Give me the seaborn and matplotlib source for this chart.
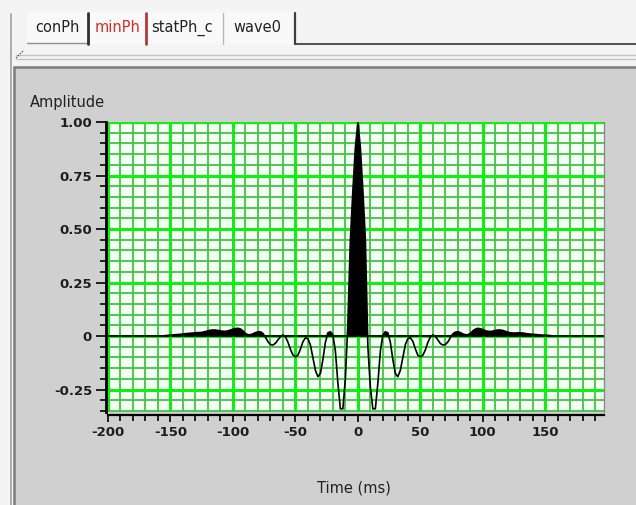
import numpy as np
import pandas as pd
import matplotlib
matplotlib.use("Agg")
import matplotlib.pyplot as plt
import seaborn as sns
from matplotlib.patches import Rectangle
from matplotlib.lines import Line2D
from matplotlib.ticker import FixedLocator, MultipleLocator

# ---------------- data ----------------
# amplitude samples every 2 ms, left half: -156 .. -2 ms
amp_left = [
    0.000, 0.002, 0.003, 0.004, 0.005, 0.006, 0.007, 0.008, 0.009, 0.011,
    0.012, 0.013, 0.014, 0.015, 0.016, 0.016, 0.018, 0.021, 0.024, 0.027,
    0.028, 0.028, 0.026, 0.024, 0.022, 0.022, 0.024, 0.028, 0.032, 0.035,
    0.036, 0.033, 0.024, 0.012, 0.006, 0.006, 0.010, 0.016, 0.019, 0.020,
    0.012, -0.006, -0.026, -0.040, -0.042, -0.034, -0.018, -0.003, 0.005, -0.004,
    -0.028, -0.062, -0.088, -0.097, -0.090, -0.062, -0.027, -0.009, -0.012, -0.042,
    -0.100, -0.160, -0.190, -0.175, -0.110, -0.030, 0.015, 0.020, 0.005, -0.070,
    -0.220, -0.340, -0.340, -0.200, 0.060, 0.450, 0.680, 0.880,
]
# right half: 0 .. 156 ms
amp_right = [
    1.000, 0.880, 0.680, 0.450, -0.050, -0.240, -0.340, -0.340, -0.220, -0.070,
    0.005, 0.020, 0.015, -0.030, -0.110, -0.175, -0.190, -0.160, -0.100, -0.040,
    -0.012, -0.008, -0.025, -0.060, -0.090, -0.097, -0.090, -0.065, -0.030, -0.005,
    0.005, -0.002, -0.018, -0.035, -0.042, -0.040, -0.028, -0.008, 0.010, 0.018,
    0.020, 0.016, 0.010, 0.006, 0.006, 0.012, 0.024, 0.032, 0.036, 0.034,
    0.030, 0.025, 0.022, 0.021, 0.023, 0.026, 0.028, 0.028, 0.026, 0.022,
    0.018, 0.015, 0.014, 0.014, 0.015, 0.015, 0.014, 0.012, 0.010, 0.009,
    0.008, 0.007, 0.006, 0.005, 0.004, 0.004, 0.003, 0.002, 0.000,
]
x_ticks = [-200, -150, -100, -50, 0, 50, 100, 150]
x_tick_labels = ["-200", "-150", "-100", "-50", "0", "50", "100", "150"]
y_ticks = [1.00, 0.75, 0.50, 0.25, 0.0, -0.25]
y_tick_labels = ["1.00", "0.75", "0.50", "0.25", "0", "-0.25"]
tab_names = ["conPh", "minPh", "statPh_c", "wave0"]
x_label = "Time (ms)"
y_label = "Amplitude"

amplitude = np.array(amp_left + amp_right)
time_ms = np.arange(-2 * len(amp_left), 2 * len(amp_right), 2)
df = pd.DataFrame({"time": time_ms, "amp": amplitude})

# ---------------- figure ----------------
sns.set_theme(style="white")
plt.rcParams["font.family"] = ["DejaVu Sans"]
plt.rcParams["font.weight"] = "bold"   # tick labels are bold; other texts set normal

W, H = 636, 505
fig = plt.figure(figsize=(W / 100, H / 100), dpi=100, facecolor="#f4f4f4")


def fx(x):
    return x / W


def fy(y):
    return 1 - y / H


# window chrome
fig.add_artist(Rectangle((fx(14), 0), 1 - fx(14), fy(67), transform=fig.transFigure,
                         facecolor="#d0d0d0", edgecolor="none", zorder=-5))
fig.add_artist(Line2D([fx(14), 1], [fy(67), fy(67)], transform=fig.transFigure,
                      color="#7c7c7c", lw=1.8, zorder=-4))
fig.add_artist(Line2D([fx(14), fx(14)], [0, fy(67)], transform=fig.transFigure,
                      color="#7c7c7c", lw=1.8, zorder=-4))
fig.add_artist(Line2D([fx(11), fx(11)], [0, fy(14)], transform=fig.transFigure,
                      color="#a0a0a0", lw=1.2, zorder=-4))
for yy in (55, 59):
    fig.add_artist(Line2D([fx(16), 1], [fy(yy), fy(yy)], transform=fig.transFigure,
                          color="#c4c4c4", lw=1.0, zorder=-4))
fig.add_artist(Line2D([fx(16), fx(24)], [fy(58), fy(50)], transform=fig.transFigure,
                      color="#555555", lw=1.0, ls=(0, (1, 1)), zorder=-4))

# tabs
fig.add_artist(Rectangle((fx(27), fy(44)), fx(295) - fx(27), fy(12) - fy(44),
                         transform=fig.transFigure, facecolor="#f9f9f9",
                         edgecolor="none", zorder=-4))
fig.add_artist(Line2D([fx(295), 1], [fy(44), fy(44)], transform=fig.transFigure,
                      color="#505050", lw=1.4, zorder=-3))
fig.add_artist(Line2D([fx(27), fx(88)], [fy(43), fy(43)], transform=fig.transFigure,
                      color="#909090", lw=1.0, zorder=-3))
dividers = [(88, "#303030", 2.0), (146, "#b03a3a", 2.0), (223, "#b8b8b8", 1.0), (295, "#404040", 1.6)]
for xx, col, lw in dividers:
    fig.add_artist(Line2D([fx(xx), fx(xx)], [fy(13), fy(44)], transform=fig.transFigure,
                          color=col, lw=lw, zorder=-3))
tab_x = [35, 95, 151, 233]
tab_colors = ["#222222", "#d42a2a", "#222222", "#222222"]
for name, xx, col in zip(tab_names, tab_x, tab_colors):
    fig.text(fx(xx), fy(28), name, color=col, fontsize=10.5, fontweight="normal",
             ha="left", va="center")

# ---------------- plot ----------------
ax = fig.add_axes([fx(108), fy(412), fx(604) - fx(108), fy(122) - fy(412)])
ax.set_facecolor("#f2fff2")
ax.set_axisbelow(True)

ax.axhline(0, color="black", lw=1.3, zorder=2)
ax.fill_between(df["time"], df["amp"], 0, where=df["amp"] > 0, interpolate=True,
                color="black", lw=0, zorder=3)
sns.lineplot(data=df, x="time", y="amp", ax=ax, color="black", lw=1.2, zorder=4,
             sort=False, estimator=None)

ax.set_xlim(-200, 197)
ax.set_ylim(-0.355, 1.0)

tick_font = dict(fontweight="bold", fontsize=9.5, color="#1e1e1e")
ax.xaxis.set_major_locator(FixedLocator(x_ticks))
ax.set_xticklabels(x_tick_labels, **tick_font)
ax.xaxis.set_minor_locator(MultipleLocator(10))
ax.yaxis.set_major_locator(FixedLocator(y_ticks))
ax.set_yticklabels(y_tick_labels, **tick_font)
ax.yaxis.set_minor_locator(MultipleLocator(0.05))

ax.grid(which="minor", color="#46c246", lw=1.3)
ax.grid(which="major", color="#10f010", lw=2.2)

ax.tick_params(axis="both", which="both", direction="out", color="black",
               labelcolor="#1e1e1e", labelsize=9.5)
ax.tick_params(axis="y", which="major", length=7, width=1.2, pad=3)
ax.tick_params(axis="y", which="minor", length=4, width=1.2)
ax.tick_params(axis="x", which="major", length=5, width=1.2, pad=3)
ax.tick_params(axis="x", which="minor", length=4, width=1.2)
ax.tick_params(left=True, bottom=True, which="both")

ax.set_xlabel("")
ax.set_ylabel("")
for side in ("top", "right"):
    ax.spines[side].set_visible(False)
ax.spines["left"].set_color("black")
ax.spines["left"].set_linewidth(2.0)
ax.spines["left"].set_position(("outward", 1.5))
ax.spines["bottom"].set_color("black")
ax.spines["bottom"].set_linewidth(1.6)
ax.spines["bottom"].set_position(("outward", 2))
fig.add_artist(Line2D([fx(604), fx(604)], [fy(412), fy(122)], transform=fig.transFigure,
                      color="#8a8a8a", lw=1.0, zorder=5))

fig.text(fx(30), fy(103), y_label, fontsize=10.5, fontweight="normal",
         ha="left", va="center", color="#222222")
fig.text(fx(354), fy(488), x_label, fontsize=10.5, fontweight="normal",
         ha="center", va="center", color="#222222")

fig.savefig("out.png", dpi=100, facecolor=fig.get_facecolor())
